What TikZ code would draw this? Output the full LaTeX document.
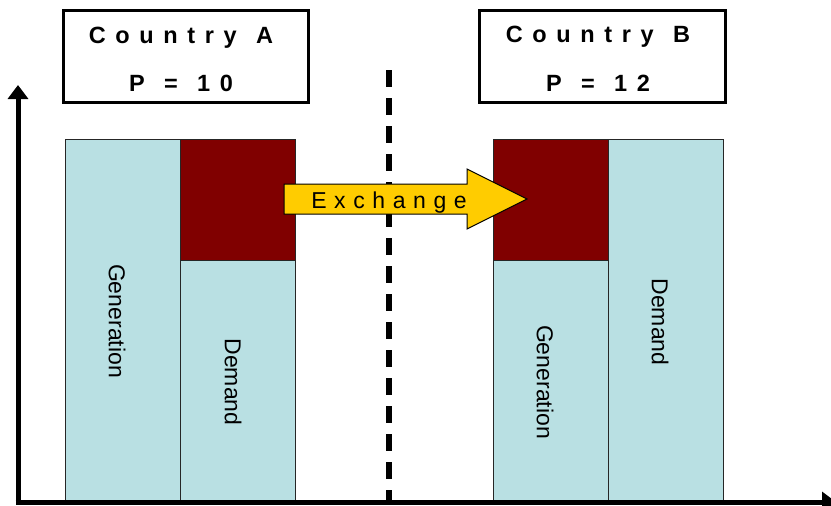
\documentclass[tikz,border=0pt]{standalone}
\usepackage{fontspec}
\setmainfont{Liberation Sans}
\newfontfamily\spacedbold[LetterSpace=41,WordSpace=1.2]{Liberation Sans Bold}
\newfontfamily\spacedreg[LetterSpace=33]{Liberation Sans}
\usetikzlibrary{arrows.meta}
\definecolor{barblue}{RGB}{185,224,227}
\definecolor{bardred}{RGB}{128,0,0}
\definecolor{exyellow}{RGB}{255,204,0}
\begin{document}
\begin{tikzpicture}[x=1pt,y=-1pt,
  bar/.style={draw=black!85, line width=1pt},
  gen/.style={bar, fill=barblue},
  exc/.style={bar, fill=bardred},
  titlebox/.style={draw=black, line width=3pt, fill=white},
  titletxt/.style={anchor=base, inner sep=0pt, font=\fontsize{23.5}{23.5}\spacedbold},
  bartxt/.style={rotate=-90, inner sep=0pt, font=\fontsize{23}{23}\selectfont},
  axis/.style={line width=5pt, -{Triangle[width=20pt,length=14pt]}}]
\useasboundingbox (0,0) rectangle (831,506);
\fill[white] (0,0) rectangle (831,506);
% bars country A
\draw[gen] (65,139) rectangle (180,502);
\draw[exc] (180,139) rectangle (295,260);
\draw[gen] (180,260) rectangle (295,502);
% bars country B
\draw[exc] (493,139) rectangle (608,260);
\draw[gen] (493,260) rectangle (608,502);
\draw[gen] (608,139) rectangle (723,502);
% labels in bars
\node[bartxt] (genA) at (117,321) {Generation};
\node[bartxt] (demA) at (233,382) {Demand};
\node[bartxt] (genB) at (545,382) {Generation};
\node[bartxt] (demB) at (660,322) {Demand};
% dashed border
\coordinate (dtop) at (389,70);
\coordinate (dbot) at (389,500);
\draw[line width=6pt, dash pattern=on 17pt off 11pt] (dtop) -- (dbot);
% axes
\coordinate (origin) at (18,502);
\coordinate (ytip) at (18,85);
\coordinate (xtip) at (836,502);
\draw[axis] (18,504.5) -- (ytip);
\draw[axis] (15.5,502) -- (xtip);
% exchange arrow
\draw[fill=exyellow, draw=black, line width=1pt, line join=miter]
  (284,184) -- (467,184) -- (467,169) -- (527,199) -- (467,229) -- (467,214) -- (284,214) -- cycle;
\node[anchor=base, inner sep=0pt, font=\fontsize{23}{23}\spacedreg] (exch) at (389,208) {Exchange};
% title boxes
\draw[titlebox] (63,10) rectangle (308,102);
\draw[titlebox] (479,10) rectangle (725,102);
\node[titletxt] (cA) at (181,43) {Country A};
\node[titletxt] (pA) at (181,91) {P = 10};
\node[titletxt] (cB) at (598,42) {Country B};
\node[titletxt] (pB) at (598,91) {P = 12};
\end{tikzpicture}
\end{document}
